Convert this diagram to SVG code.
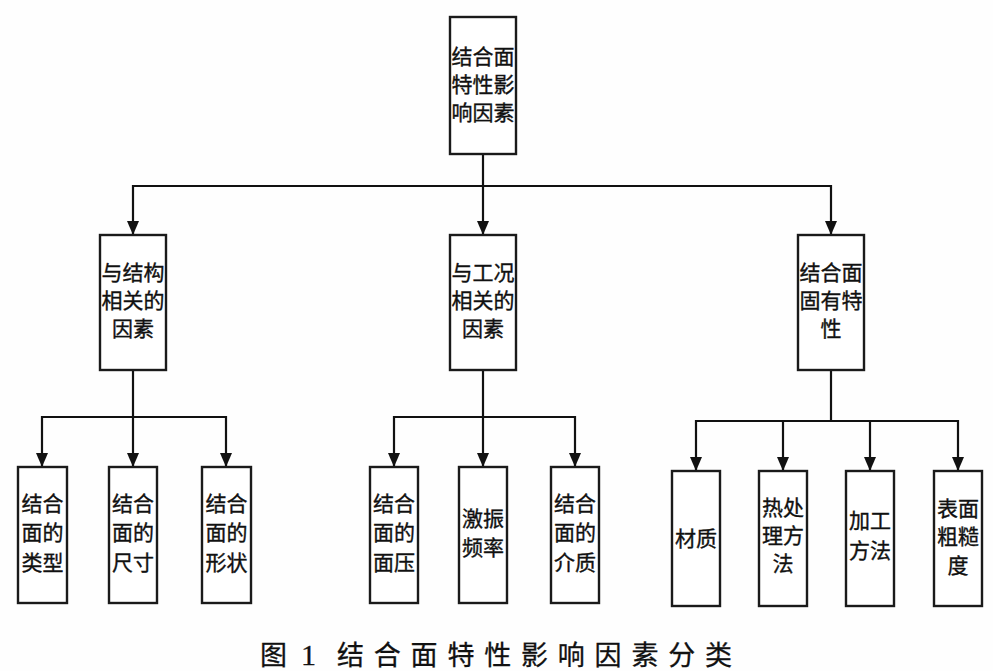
<svg xmlns="http://www.w3.org/2000/svg" width="993" height="671" viewBox="0 0 993 671">
<style>
.box{fill:#fff;stroke:#1a1a1a;stroke-width:2.4}
.t{font-family:"Noto Sans CJK SC","Noto Sans",sans-serif;font-size:21px;fill:#111;stroke:#111;stroke-width:0.35;text-anchor:middle}
.c{fill:none;stroke:#111;stroke-width:2.2}
.cap{font-family:"Liberation Serif","Noto Sans CJK SC",serif;font-size:27px;fill:#111;stroke:#111;stroke-width:0.3}
</style>
<defs>
<marker id="ah" markerUnits="userSpaceOnUse" markerWidth="12" markerHeight="14" refX="6" refY="14" orient="0" viewBox="0 0 12 14">
<path d="M0,0 L12,0 L6,14 z" fill="#111"/>
</marker>
</defs>
<rect width="993" height="671" fill="#fefefe"/>
<g id="connectors">
<path class="c" d="M483,154 V235" marker-end="url(#ah)"/>
<path class="c" d="M483,186 H133 V235" marker-end="url(#ah)"/>
<path class="c" d="M483,186 H831 V235" marker-end="url(#ah)"/>
<path class="c" d="M133,370 V467" marker-end="url(#ah)"/>
<path class="c" d="M133,417 H42 V467" marker-end="url(#ah)"/>
<path class="c" d="M133,417 H226 V467" marker-end="url(#ah)"/>
<path class="c" d="M483,370 V467" marker-end="url(#ah)"/>
<path class="c" d="M483,417 H394 V467" marker-end="url(#ah)"/>
<path class="c" d="M483,417 H575 V467" marker-end="url(#ah)"/>
<path class="c" d="M831,370 V421"/>
<path class="c" d="M831,421 H696 V471" marker-end="url(#ah)"/>
<path class="c" d="M831,421 H958 V471" marker-end="url(#ah)"/>
<path class="c" d="M783,421 V471" marker-end="url(#ah)"/>
<path class="c" d="M870,421 V471" marker-end="url(#ah)"/>
</g>
<g id="root">
<rect class="box" x="450" y="17" width="66" height="137"/>
<text class="t" x="483" y="64">结合面</text>
<text class="t" x="483" y="92">特性影</text>
<text class="t" x="483" y="120">响因素</text>
</g>
<g id="n-structure">
<rect class="box" x="100" y="235" width="66" height="135"/>
<text class="t" x="133" y="280">与结构</text>
<text class="t" x="133" y="308">相关的</text>
<text class="t" x="133" y="336">因素</text>
</g>
<g id="n-condition">
<rect class="box" x="450" y="235" width="66" height="135"/>
<text class="t" x="483" y="280">与工况</text>
<text class="t" x="483" y="308">相关的</text>
<text class="t" x="483" y="336">因素</text>
</g>
<g id="n-inherent">
<rect class="box" x="798" y="235" width="66" height="135"/>
<text class="t" x="831" y="280">结合面</text>
<text class="t" x="831" y="308">固有特</text>
<text class="t" x="831" y="336">性</text>
</g>
<g id="n-type">
<rect class="box" x="18" y="467" width="49" height="136"/>
<text class="t" x="42.5" y="511">结合</text>
<text class="t" x="42.5" y="540">面的</text>
<text class="t" x="42.5" y="570">类型</text>
</g>
<g id="n-size">
<rect class="box" x="109" y="467" width="48" height="136"/>
<text class="t" x="133" y="511">结合</text>
<text class="t" x="133" y="540">面的</text>
<text class="t" x="133" y="570">尺寸</text>
</g>
<g id="n-shape">
<rect class="box" x="202" y="467" width="49" height="136"/>
<text class="t" x="226.5" y="511">结合</text>
<text class="t" x="226.5" y="540">面的</text>
<text class="t" x="226.5" y="570">形状</text>
</g>
<g id="n-pressure">
<rect class="box" x="370" y="467" width="48" height="136"/>
<text class="t" x="394" y="511">结合</text>
<text class="t" x="394" y="540">面的</text>
<text class="t" x="394" y="570">面压</text>
</g>
<g id="n-freq">
<rect class="box" x="459" y="467" width="48" height="136"/>
<text class="t" x="483" y="526">激振</text>
<text class="t" x="483" y="555">频率</text>
</g>
<g id="n-medium">
<rect class="box" x="551" y="467" width="48" height="136"/>
<text class="t" x="575" y="511">结合</text>
<text class="t" x="575" y="540">面的</text>
<text class="t" x="575" y="570">介质</text>
</g>
<g id="n-material">
<rect class="box" x="672" y="471" width="48" height="135"/>
<text class="t" x="696" y="546">材质</text>
</g>
<g id="n-heat">
<rect class="box" x="759" y="471" width="48" height="135"/>
<text class="t" x="783" y="515">热处</text>
<text class="t" x="783" y="543">理方</text>
<text class="t" x="783" y="571">法</text>
</g>
<g id="n-machining">
<rect class="box" x="846" y="471" width="48" height="135"/>
<text class="t" x="870" y="528">加工</text>
<text class="t" x="870" y="558">方法</text>
</g>
<g id="n-rough">
<rect class="box" x="934" y="471" width="48" height="135"/>
<text class="t" x="958" y="516">表面</text>
<text class="t" x="958" y="544">粗糙</text>
<text class="t" x="958" y="573">度</text>
</g>
<text class="cap" y="665"><tspan x="260">图</tspan><tspan x="301" style="font-size:30px">1</tspan><tspan x="337" style="letter-spacing:9.8px">结合面特性影响因素分类</tspan></text>
</svg>
